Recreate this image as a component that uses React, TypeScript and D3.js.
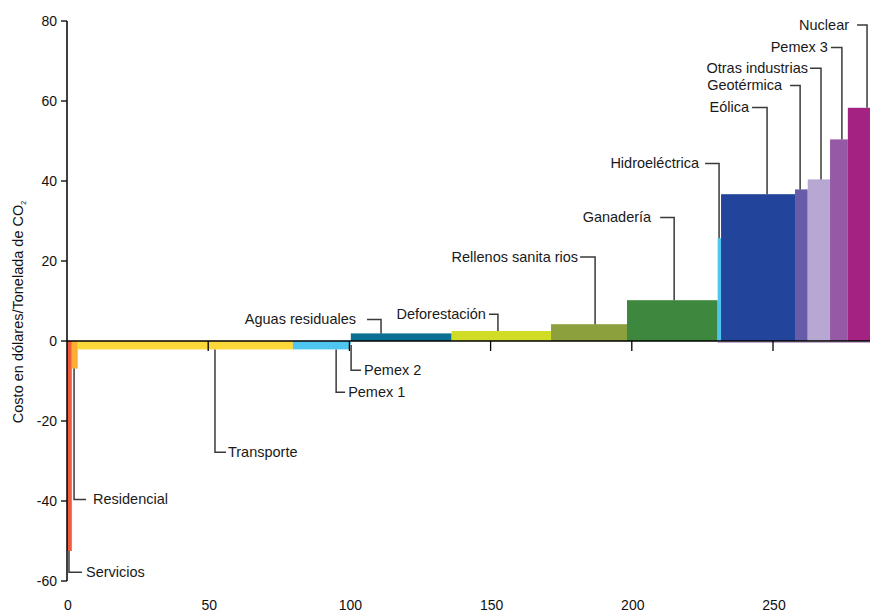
import React from "react";
import * as d3 from "d3";

const sectors = [
  "Servicios", "Residencial", "Transporte", "Pemex 1", "Pemex 2",
  "Aguas residuales", "Deforestación", "Rellenos sanitarios", "Ganadería",
  "Hidroeléctrica", "Eólica", "Geotérmica", "Otras industrias", "Pemex 3", "Nuclear",
];
// abatement potential (width on x axis)
const potentials = [1.7, 2.1, 76.2, 20.2, 0.3, 35.7, 35.2, 26.9, 32.1, 1.2, 26.2, 4.5, 7.9, 6.3, 7.9];
// cost in USD / t CO2
const costs = [-52.5, -6.9, -2.1, -2.1, -1.0, 1.9, 2.5, 4.2, 10.2, 25.7, 36.7, 37.9, 40.4, 50.4, 58.3];
const colors = [
  "#f15a3b", "#fbb034", "#fdd83a", "#4ec6ef", "#4ec6ef", "#0a7093", "#d0dc26",
  "#8ca03e", "#3e873e", "#4ec6ef", "#22449a", "#675ca8", "#b7a7d3", "#9659a5", "#a42282",
];

const yTicks = [80, 60, 40, 20, 0, -20, -40, -60];
const xTicks = [0, 50, 100, 150, 200, 250];

// label leader layout (data units)
const leaderX = [0.7, 2.5, 52.4, 95.3, 100.6, 111.2, 152.6, 187, 215, 230.9, 247.9, 259.6, 267, 274.4, 283.3];
const elbowY = [-57.8, -39.6, -27.8, -12.8, -7.3, 5.4, 6.7, 21, 30.9, 44.4, 58.4, 63.9, 68.2, 73.4, 79];
const leaderLen = [13, 12, 11, 9, 10, 14, 9, 15, 14, 14, 15, 10, 11, 11, 10];
const textGap = [4, 7, 2, 3, 3, 11, 3, 2, 9, 6, 3, 8, 2, 3, 8];

const W = 870;
const H = 615;
const FONT = "'Liberation Sans', Arial, Helvetica, sans-serif";

export default function App() {
  const x = d3.scaleLinear().domain([0, 250]).range([67, 773]);
  const y = d3.scaleLinear().domain([-60, 80]).range([581, 21]);

  const ends = d3.cumsum(potentials);
  const bars = sectors.map((s, i) => ({
    name: s,
    x0: i === 0 ? 0 : ends[i - 1],
    x1: ends[i],
    v: costs[i],
    c: colors[i],
  }));

  const leaderColor = "#3a3a3a";

  return (
    <svg
      width={W}
      height={H}
      style={{ position: "fixed", left: 0, top: 0, background: "#fff" }}
      fontFamily={FONT}
    >
      <rect x={0} y={0} width={W} height={H} fill="#fff" />

      {/* clipped title (only its lowest edge shows, as in the source) */}
      <text x={210} y={-3} fontSize={16} fill="#333" textLength={392} lengthAdjust="spacing">
        (Costo en dólares / tonelada de CO<tspan fontSize={10} dy={3}>2</tspan>
        <tspan dy={-3}> evitada)</tspan>
      </text>

      {/* bars */}
      {bars.map((b) => (
        <rect
          key={b.name}
          x={x(b.x0)}
          width={Math.max(0.5, x(b.x1) - x(b.x0))}
          y={Math.min(y(b.v), y(0))}
          height={Math.abs(y(b.v) - y(0))}
          fill={b.c}
        />
      ))}

      {/* faint line under the high-cost bars */}
      <line x1={x(230.4)} x2={W} y1={y(0) + 1.5} y2={y(0) + 1.5} stroke="#c9a9cf" strokeWidth={1} />

      {/* zero axis */}
      <line x1={x(0)} x2={W} y1={y(0)} y2={y(0)} stroke="#000" strokeWidth={1.5} />
      {xTicks.slice(1).map((t) => (
        <line key={t} x1={x(t)} x2={x(t)} y1={y(0)} y2={y(0) + 10} stroke="#000" strokeWidth={1.3} />
      ))}

      {/* y axis */}
      <line x1={x(0)} x2={x(0)} y1={y(80)} y2={y(-60)} stroke="#000" strokeWidth={1.5} />
      {yTicks.map((t) => (
        <g key={t}>
          <line x1={x(0) - 6} x2={x(0)} y1={y(t)} y2={y(t)} stroke="#000" strokeWidth={1.3} />
          <text x={x(0) - 10} y={y(t)} dy="0.35em" textAnchor="end" fontSize={14} fill="#111">
            {t}
          </text>
        </g>
      ))}

      {/* x tick labels */}
      {xTicks.map((t) => (
        <text key={t} x={x(t) + 1} y={605} dy="0.35em" textAnchor="middle" fontSize={14} fill="#111">
          {t}
        </text>
      ))}

      {/* y axis title */}
      <text
        transform={`translate(23,${312}) rotate(-90)`}
        textAnchor="middle"
        fontSize={14.5}
        fill="#111"
      >
        Costo en dólares/Tonelada de CO<tspan fontSize={7} dy={3}>2</tspan>
      </text>

      {/* leaders and labels */}
      {bars.map((b, i) => {
        const lx = x(leaderX[i]);
        const ly0 = y(b.v);
        const ly1 = y(elbowY[i]);
        const neg = b.v < 0;
        const hx = neg ? lx + leaderLen[i] : lx - leaderLen[i];
        const tx = neg ? hx + textGap[i] : hx - textGap[i];
        const isRellenos = b.name === "Rellenos sanitarios";
        return (
          <g key={b.name}>
            <path
              d={`M${lx},${ly0}V${ly1}H${hx}`}
              fill="none"
              stroke={leaderColor}
              strokeWidth={1.5}
            />
            <text
              x={tx}
              y={ly1}
              dy="0.35em"
              textAnchor={neg ? "start" : "end"}
              fontSize={14.5}
              fill="#1a1a1a"
            >
              {isRellenos ? (
                <>
                  Rellenos sanita<tspan dx={4}>rios</tspan>
                </>
              ) : (
                b.name
              )}
            </text>
          </g>
        );
      })}
    </svg>
  );
}
